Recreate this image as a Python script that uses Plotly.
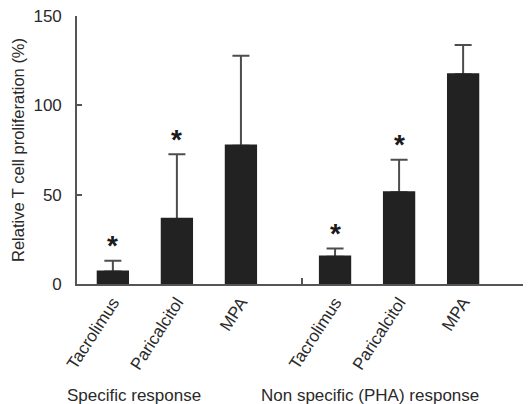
import plotly.graph_objects as go

# Data
categories = ["Tacrolimus", "Paricalcitol", "MPA", "Tacrolimus", "Paricalcitol", "MPA"]
x_pos = [1, 2, 3, 4.47, 5.47, 6.47]
values = [7.0, 36.4, 77.4, 15.3, 51.3, 117.4]
err_plus = [6.0, 36.2, 50.3, 4.5, 18.3, 16.4]
significant = [True, True, False, True, True, False]
group_labels = ["Specific response", "Non specific (PHA) response"]
group_label_x = [1.33, 5.02]
group_sep = 3.95
y_ticks = [0, 50, 100, 150]

FONT = "Liberation Sans, Arial, Helvetica, sans-serif"
TXT = "#2a2a2a"
AX = "#555555"
BAR = "#222222"

fig = go.Figure()
# bars carrying the (upper) error bars
fig.add_trace(go.Bar(
    x=x_pos, y=values, width=0.47,
    marker=dict(color=BAR, line=dict(width=0)),
    error_y=dict(type="data", symmetric=False, array=err_plus,
                 arrayminus=[0] * len(values),
                 color="#4d4d4d", thickness=2, width=8.5),
    showlegend=False, hoverinfo="skip",
))
# same bars drawn again on top to hide the lower cap of the error bars
fig.add_trace(go.Bar(
    x=x_pos, y=values, width=0.47,
    marker=dict(color=BAR, line=dict(width=2.2, color=BAR)),
    showlegend=False,
))

annotations = []
for xp, v, e, s in zip(x_pos, values, err_plus, significant):
    if s:
        annotations.append(dict(
            x=xp, y=v + e, xref="x", yref="y", text="<b>*</b>",
            showarrow=False, yanchor="middle", yshift=15,
            font=dict(size=28, color="#1a1a1a", family=FONT)))
for gl, gx in zip(group_labels, group_label_x):
    annotations.append(dict(
        x=gx, y=0, xref="x", yref="paper", text=gl, showarrow=False,
        yanchor="middle", yshift=-111,
        font=dict(size=17, color=TXT, family=FONT)))

fig.update_layout(
    width=523, height=396,
    barmode="overlay",
    margin=dict(l=69, r=0, t=8, b=120, autoexpand=False),
    paper_bgcolor="white", plot_bgcolor="white",
    font=dict(family=FONT, size=17, color=TXT),
    annotations=annotations,
    xaxis=dict(
        range=[0.44, 7.53], tickmode="array", tickvals=x_pos,
        ticktext=categories, tickangle=-57, ticks="",
        showline=True, linecolor=AX, linewidth=1.6,
        showgrid=False, zeroline=False, automargin=False,
        tickfont=dict(size=17, color=TXT),
        minor=dict(tickmode="array", tickvals=[group_sep], ticks="inside",
                   ticklen=6, tickwidth=1.5, tickcolor=AX, showgrid=False),
    ),
    yaxis=dict(
        range=[0, 150], tickmode="array", tickvals=y_ticks,
        ticks="inside", ticklen=5, tickwidth=1.5, tickcolor=AX,
        showline=True, linecolor=AX, linewidth=1.6,
        showgrid=False, zeroline=False, automargin=False,
        tickfont=dict(size=17, color=TXT),
        ticklabelstandoff=10, ticklabeloverflow="allow",
        title=dict(text="Relative T cell proliferation (%)",
                   font=dict(size=16.5, color=TXT), standoff=5),
    ),
)

fig.write_html("out.html")
